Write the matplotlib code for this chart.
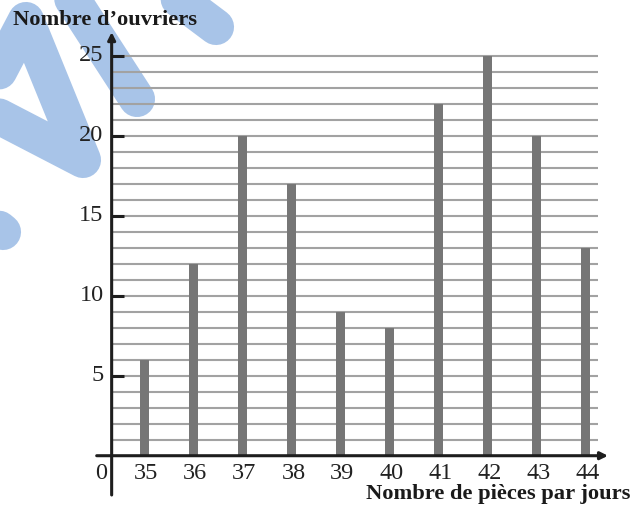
import matplotlib.pyplot as plt
from matplotlib.lines import Line2D

plt.rcParams['font.family'] = ['Liberation Serif', 'DejaVu Serif']

# data
pieces = [35, 36, 37, 38, 39, 40, 41, 42, 43, 44]
ouvriers = [6, 12, 20, 17, 9, 8, 22, 25, 20, 13]
y_ticks = [5, 10, 15, 20, 25]
grid_levels = list(range(1, 26))

fig = plt.figure(figsize=(6.32, 5.16), dpi=100)
ax = fig.add_axes([0.153, 0.0407, 0.809, 0.897])
ax.patch.set_alpha(0)
ax.set_xlim(34.03, 44.454)
ax.set_ylim(-2.456, 26.48)
ax.axis('off')

x_axis = 34.335
axis_col = '#1e1e1e'

# horizontal guide lines
ax.hlines(grid_levels, x_axis, 44.26, color='#a2a2a2', lw=1.5, zorder=1)

# bars
ax.bar(pieces, ouvriers, width=0.19, color='#767676', zorder=3)

# axes with arrows
ax.annotate('', xy=(44.454, 0), xytext=(34.03, 0),
            arrowprops=dict(arrowstyle='-|>', color=axis_col, lw=2.2,
                            mutation_scale=11, shrinkA=0, shrinkB=0), zorder=4)
ax.annotate('', xy=(x_axis, 26.48), xytext=(x_axis, -2.456),
            arrowprops=dict(arrowstyle='-|>', color=axis_col, lw=2.2,
                            mutation_scale=11, shrinkA=0, shrinkB=0), zorder=4)

# y ticks and labels
ax.hlines(y_ticks, x_axis, x_axis + 0.245, color=axis_col, lw=2.2, zorder=4)
for t in y_ticks:
    ax.text(34.17, t, str(t), ha='right', va='center', fontsize=17.5, color='#222222')

# x labels
ax.text(34.117, -1.14, '0', ha='center', va='center', fontsize=17.5, color='#222222')
for p in pieces:
    ax.text(p + 0.04, -1.14, str(p), ha='center', va='center', fontsize=17.5, color='#222222')

fig.text(0.0206, 0.961, 'Nombre d\u2019ouvriers', ha='left', va='center',
         fontsize=16.2, fontweight='bold', color='#1a1a1a')
fig.text(0.9968, 0.0426, 'Nombre de pi\u00e8ces par jours', ha='right', va='center',
         fontsize=16.2, fontweight='bold', color='#1a1a1a')

# blue brush watermark (image pixel coords)
W, H = 632, 516
strokes = [
    [(-25, 104), (83, 160), (26, 20), (-16, 100)],
    [(60, -20), (137, 99)],
    [(-30, 205), (3, 232)],
    [(160, -15), (216, 27)],
]
for s in strokes:
    xs = [p[0] / W for p in s]
    ys = [1 - p[1] / H for p in s]
    fig.add_artist(Line2D(xs, ys, transform=fig.transFigure, color='#a8c4e8',
                          lw=26, solid_capstyle='round', solid_joinstyle='round',
                          zorder=-1))

fig.savefig('out.png', dpi=100, facecolor='white')
